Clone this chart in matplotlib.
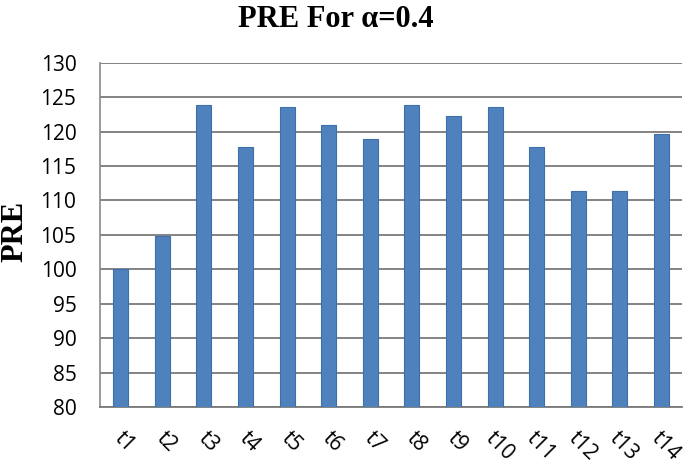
import numpy as np
import matplotlib
matplotlib.use('Agg')
import matplotlib.pyplot as plt
from matplotlib.transforms import ScaledTranslation

labels = ['t1', 't2', 't3', 't4', 't5', 't6', 't7',
          't8', 't9', 't10', 't11', 't12', 't13', 't14']
pre = [100.0, 104.9, 123.8, 117.8, 123.6, 120.9, 118.9,
       123.8, 122.3, 123.6, 117.8, 111.4, 111.4, 119.6]
yticks = [80, 85, 90, 95, 100, 105, 110, 115, 120, 125, 130]

fig = plt.figure(figsize=(6.85, 4.68), dpi=100)
ax = fig.add_axes([0.146, 0.130, 0.850, 0.736])

x = np.arange(len(labels))
ax.bar(x, pre, width=0.36, color='#4F81BD', edgecolor='#3E6FA8',
       linewidth=0.8, zorder=3)

ax.set_ylim(80, 130)
ax.set_xlim(-0.5, len(labels) - 0.5)
ax.set_yticks(yticks)
ax.set_xticks(x)
ax.set_xticklabels(labels, rotation=-45, ha='center')
ax.yaxis.grid(True, color='#7a7a7a', linewidth=1.3, zorder=0)
ax.tick_params(axis='both', length=0, labelsize=15)
ax.tick_params(axis='y', pad=17)
ax.tick_params(axis='x', pad=15)
shift = ScaledTranslation(4 / 100, 0, fig.dpi_scale_trans)
for lab in ax.get_xticklabels():
    lab.set_family('Open Sans')
    lab.set_transform(lab.get_transform() + shift)
for lab in ax.get_yticklabels():
    lab.set_family('Open Sans')

ax.spines['top'].set_visible(False)
ax.spines['right'].set_visible(False)
ax.spines['left'].set_color('#8a8a8a')
ax.spines['bottom'].set_color('#7a7a7a')
ax.spines['left'].set_linewidth(1.2)
ax.spines['bottom'].set_linewidth(1.3)

fig.text(0.49, 0.99, 'PRE For α=0.4', ha='center', va='top',
         family='Liberation Serif', fontweight='bold', fontsize=22)
fig.text(0.022, 0.505, 'PRE', ha='center', va='center', rotation=90,
         family='Liberation Serif', fontweight='bold', fontsize=22)

fig.savefig('out.png', dpi=100)
